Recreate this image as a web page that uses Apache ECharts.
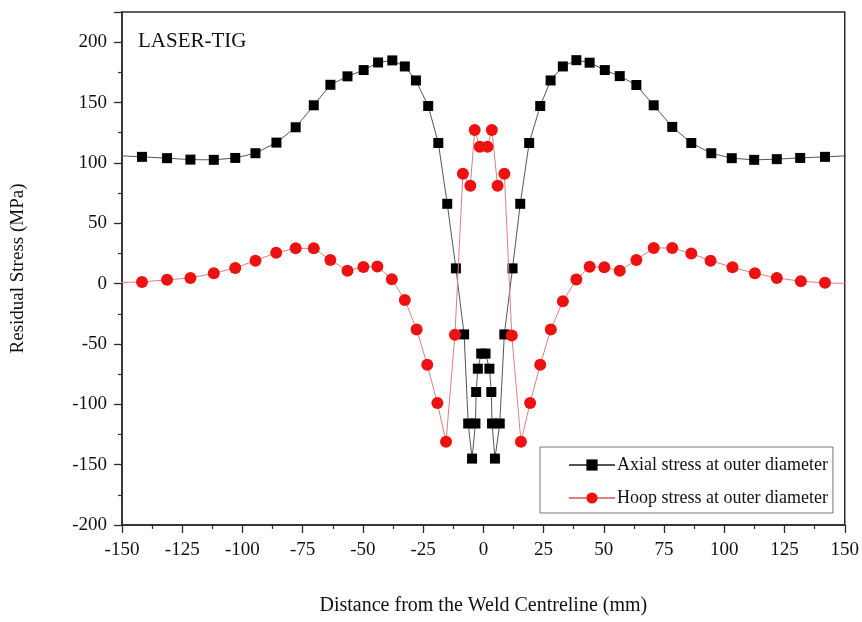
<!DOCTYPE html>
<html>
<head>
<meta charset="utf-8">
<script src="https://cdn.jsdelivr.net/npm/echarts@6/dist/echarts.min.js"></script>
<style>
  html, body { margin: 0; padding: 0; background: #fff; }
  #chart { width: 862px; height: 622px; }
</style>
</head>
<body>
<div id="chart"></div>
<script>
// Distance from the weld centreline (mm) and residual stress (MPa)
const axialX = [-152, -141.7, -131.3, -121.6, -111.9, -103.0, -94.6, -85.9, -77.9, -70.4, -63.5, -56.4, -49.7, -43.7, -37.8, -32.6, -28.0, -22.9, -18.7, -15.0, -11.4, -8.0, -6.3, -4.7, -3.3, -3.0, -2.3, -0.9, 0.9, 2.5, 3.3, 3.6, 4.8, 6.8, 8.7, 12.1, 15.3, 19.0, 23.6, 27.9, 33.0, 38.6, 44.1, 50.4, 56.6, 63.5, 70.7, 78.4, 86.3, 94.6, 103.1, 112.4, 121.8, 131.5, 141.8, 152];
const axialY = [106, 105, 103.9, 102.7, 102.5, 104.1, 108, 116.8, 129.5, 147.7, 164.7, 171.7, 176.9, 183.2, 184.9, 179.9, 168.3, 147.1, 116.5, 66.1, 12.6, -42.1, -115.9, -145, -115.9, -89.8, -70.5, -58, -58, -70.5, -89.8, -115.9, -145, -115.9, -42.1, 12.6, 66.1, 116.5, 147.1, 168.3, 179.9, 185.1, 183, 176.9, 171.9, 164.5, 147.7, 129.8, 116.5, 108, 103.9, 102.5, 103.1, 104.1, 105, 106];

const hoopX = [-152, -141.7, -131.3, -121.6, -111.9, -103.0, -94.6, -86.0, -77.9, -70.4, -63.5, -56.4, -49.8, -44.0, -38.0, -32.6, -27.7, -23.3, -19.1, -15.5, -11.8, -8.5, -5.4, -3.6, -1.5, 1.7, 3.5, 5.9, 8.7, 11.8, 15.6, 19.4, 23.6, 28.0, 33.0, 38.6, 44.1, 50.2, 56.6, 63.5, 70.7, 78.4, 86.3, 94.3, 103.4, 112.7, 121.8, 131.8, 141.8, 152];
const hoopY = [0.8, 1.4, 3.1, 4.7, 8.5, 13, 19, 25.6, 29.2, 29.2, 19.6, 10.7, 13.8, 14.2, 3.6, -13.6, -38, -67.2, -98.9, -131, -42.4, 91, 81, 127.3, 113.3, 113.3, 127.3, 81, 91, -43, -131.1, -98.9, -67.2, -38, -14.6, 3.3, 14, 13.5, 10.7, 19.6, 29.5, 29.5, 25, 19, 13.5, 8.5, 4.7, 1.9, 0.6, 0];

const seriesNames = ['Axial stress at outer diameter', 'Hoop stress at outer diameter'];
const panelLabel = 'LASER-TIG';
const xAxisTitle = 'Distance from the Weld Centreline (mm)';
const yAxisTitle = 'Residual Stress (MPa)';

const pairs = (xs, ys) => xs.map((x, i) => [x, ys[i]]);
const serif = 'Liberation Serif, Times New Roman, serif';
const axisColor = '#2b2b2b';

const chart = echarts.init(document.getElementById('chart'), null, { renderer: 'canvas' });

chart.setOption({
  backgroundColor: '#ffffff',
  animation: false,
  title: {
    text: panelLabel,
    left: 138,
    top: 31,
    padding: 0,
    textStyle: { fontFamily: serif, fontSize: 21, fontWeight: 'normal', color: '#111' }
  },
  grid: {
    left: 122, right: 17, top: 12, bottom: 97,
    show: true, borderColor: axisColor, borderWidth: 1.5, backgroundColor: 'transparent'
  },
  legend: {
    orient: 'vertical',
    left: 540,
    top: 447,
    padding: [9, 5, 6, 28],
    itemWidth: 46,
    itemHeight: 14,
    itemGap: 15,
    backgroundColor: '#fff',
    borderColor: '#777',
    borderWidth: 1,
    textStyle: { fontFamily: serif, fontSize: 18, color: '#111', padding: [0, 0, 0, -3] },
    data: seriesNames
  },
  xAxis: {
    type: 'value',
    min: -150, max: 150, interval: 25,
    name: xAxisTitle,
    nameLocation: 'middle',
    nameGap: 71,
    nameTextStyle: { fontFamily: serif, fontSize: 20, color: '#111' },
    axisLine: { onZero: false, lineStyle: { color: axisColor, width: 1.5 } },
    axisTick: { show: true, inside: false, length: 8, lineStyle: { color: axisColor, width: 1.3 } },
    minorTick: { show: true, splitNumber: 2, length: 4, lineStyle: { color: axisColor, width: 1.2 } },
    axisLabel: { fontFamily: serif, fontSize: 19, color: '#111', margin: 16 },
    splitLine: { show: false }
  },
  yAxis: {
    type: 'value',
    min: -200, max: 225, interval: 50,
    name: yAxisTitle,
    nameLocation: 'middle',
    nameGap: 94,
    nameTextStyle: { fontFamily: serif, fontSize: 19, color: '#111' },
    axisLine: { onZero: false, lineStyle: { color: axisColor, width: 1.5 } },
    axisTick: { show: true, inside: false, length: 8, lineStyle: { color: axisColor, width: 1.3 } },
    minorTick: { show: true, splitNumber: 2, length: 4, lineStyle: { color: axisColor, width: 1.2 } },
    axisLabel: {
      fontFamily: serif, fontSize: 19, color: '#111', margin: 15,
      formatter: v => (v > 200 ? '' : String(v))
    },
    splitLine: { show: false }
  },
  series: [
    {
      name: seriesNames[0],
      type: 'line',
      data: pairs(axialX, axialY),
      clip: true,
      symbol: 'rect',
      symbolSize: 10,
      itemStyle: { color: '#000' },
      lineStyle: { color: '#555', width: 1 },
      z: 2
    },
    {
      name: seriesNames[1],
      type: 'line',
      data: pairs(hoopX, hoopY),
      clip: true,
      symbol: 'circle',
      symbolSize: 12,
      itemStyle: { color: '#ee1111' },
      lineStyle: { color: '#d98080', width: 1 },
      z: 3
    }
  ]
});
</script>
</body>
</html>
